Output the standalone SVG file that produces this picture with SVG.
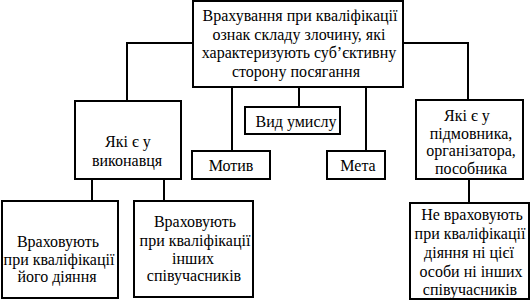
<svg xmlns="http://www.w3.org/2000/svg" width="532" height="305" viewBox="0 0 532 305">
<style>
.b{fill:#fff;stroke:#000;stroke-width:2}
.c{fill:none;stroke:#000;stroke-width:2}
text{font-family:'Liberation Serif','Times New Roman','DejaVu Serif',serif;font-size:16px;fill:#000;text-anchor:middle}
</style>
<rect width="532" height="305" fill="#fff"/>
<g id="connectors">
<polyline class="c" points="193,43 127,43 127,101"/>
<polyline class="c" points="403,43 468,43 468,100"/>
<line class="c" x1="232" y1="87" x2="232" y2="151"/>
<line class="c" x1="299" y1="87" x2="299" y2="107"/>
<line class="c" x1="366" y1="87" x2="366" y2="151"/>
<line class="c" x1="92" y1="179" x2="92" y2="201"/>
<line class="c" x1="164" y1="179" x2="164" y2="201"/>
<line class="c" x1="469" y1="179" x2="469" y2="203"/>
</g>
<g id="top">
<rect class="b" x="193" y="1" width="210" height="86"/>
<text x="300" y="21">Врахування при кваліфікації</text>
<text x="299" y="39.7">ознак складу злочину, які</text>
<text x="299" y="58.3">характеризують суб’єктивну</text>
<text x="296" y="77">сторону посягання</text>
</g>
<g id="vykonavets">
<rect class="b" x="75" y="101" width="106" height="78"/>
<text x="128" y="147">Які є у</text>
<text x="127" y="166">виконавця</text>
</g>
<g id="vyd">
<rect class="b" x="245" y="107" width="95" height="27"/>
<text x="296" y="127">Вид умислу</text>
</g>
<g id="motyv">
<rect class="b" x="192" y="151" width="78" height="28"/>
<text x="231" y="171">Мотив</text>
</g>
<g id="meta">
<rect class="b" x="327" y="151" width="58" height="28"/>
<text x="358" y="171">Мета</text>
</g>
<g id="pidmovnyk">
<rect class="b" x="416" y="100" width="107" height="79"/>
<text x="467" y="121">Які є у</text>
<text x="471" y="139">підмовника,</text>
<text x="471" y="156">організатора,</text>
<text x="471" y="174">пособника</text>
</g>
<g id="vrakh1">
<rect class="b" x="2" y="201" width="116" height="97"/>
<text x="58" y="247">Враховують</text>
<text x="59" y="264.5">при кваліфікації</text>
<text x="57" y="282">його діяння</text>
</g>
<g id="vrakh2">
<rect class="b" x="134" y="201" width="119" height="96"/>
<text x="195" y="227">Враховують</text>
<text x="195" y="246">при кваліфікації</text>
<text x="193" y="264">інших</text>
<text x="194" y="281">співучасників</text>
</g>
<g id="nevrakh">
<rect class="b" x="410" y="203" width="119" height="96"/>
<text x="472" y="220">Не враховують</text>
<text x="470" y="238.5">при кваліфікації</text>
<text x="469" y="257.5">діяння ні цієї</text>
<text x="471" y="276.5">особи ні інших</text>
<text x="470" y="295">співучасників</text>
</g>
</svg>
